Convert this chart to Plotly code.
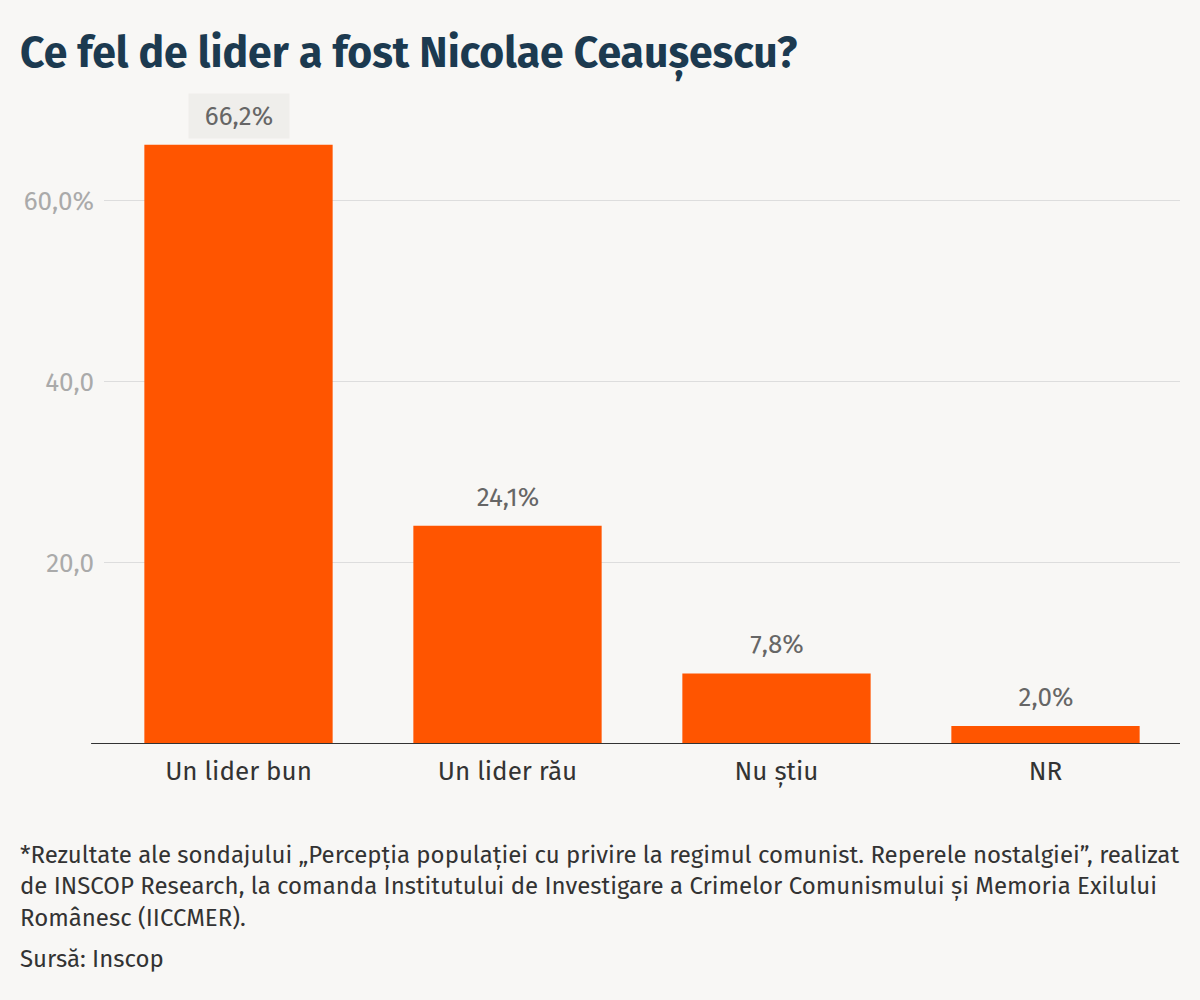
import plotly.graph_objects as go

# date
categories = ["Un lider bun", "Un lider rău", "Nu știu", "NR"]
values = [66.2, 24.1, 7.8, 2.0]
y_ticks = [20, 40, 60]
y_ticktext = ["20,0", "40,0", "60,0%"]

title = "Ce fel de lider a fost Nicolae Ceaușescu?"
note_lines = [
    "*Rezultate ale sondajului „Percepția populației cu privire la regimul comunist. Reperele nostalgiei”, realizat",
    "de INSCOP Research, la comanda Institutului de Investigare a Crimelor Comunismului și Memoria Exilului",
    "Românesc (IICCMER).",
]
source = "Sursă: Inscop"

BG = "#f8f7f5"
ORANGE = "#ff5500"
FONT = "Fira Sans, Noto Sans, sans-serif"

fig = go.Figure(go.Bar(x=categories, y=values, marker_color=ORANGE, marker_line_width=0, hoverinfo="skip"))

# etichete cu valori deasupra barelor
for i, (c, v) in enumerate(zip(categories, values)):
    fig.add_annotation(
        x=c, y=v, yshift=29, showarrow=False,
        text=f"{v:.1f}%".replace(".", ","),
        font=dict(size=26, color="#666666", family=FONT),
        bgcolor="#efeeeb" if i == 0 else None,
        width=100, height=44, borderpad=0,
    )

# linia de baza, putin mai lunga spre stanga
fig.add_shape(type="line", xref="paper", yref="y", x0=-0.012, x1=1, y0=0, y1=0,
              line=dict(color="#333333", width=2))

# nota de subsol, cate o linie
plot_h = 679
for k, line in enumerate(note_lines):
    py = 855 + k * 31.5
    fig.add_annotation(xref="paper", yref="paper", x=-86 / 1076, y=(744 - py) / plot_h,
                       xanchor="left", yanchor="middle", showarrow=False, text=line,
                       font=dict(size=24, color="#333333", family=FONT))
fig.add_annotation(xref="paper", yref="paper", x=-86 / 1076, y=(744 - 959) / plot_h,
                   xanchor="left", yanchor="middle", showarrow=False, text=source,
                   font=dict(size=24, color="#333333", family=FONT))

fig.update_layout(
    width=1200, height=1000,
    paper_bgcolor=BG, plot_bgcolor=BG,
    margin=dict(l=104, r=20, t=65, b=256),
    bargap=0.3,
    showlegend=False,
    title=dict(text=f"<b>{title}</b>", x=20 / 1200, xanchor="left",
               y=1 - 52 / 1000, yanchor="middle",
               font=dict(size=42.7, color="#1c3a50", family=FONT)),
    xaxis=dict(showgrid=False, showline=False, ticks="outside", ticklen=4,
               tickcolor="rgba(0,0,0,0)",
               tickfont=dict(size=26, color="#333333", family=FONT)),
    yaxis=dict(range=[0, 75], tickvals=y_ticks, ticktext=y_ticktext,
               showgrid=True, gridcolor="#dddddd", gridwidth=1,
               zeroline=False, showline=False, ticks="", ticklabelstandoff=9,
               tickfont=dict(size=26, color="#aaaaaa", family=FONT)),
)

# pagina fara marginea implicita a browserului
fig.write_html("out.html", config={"displayModeBar": False},
               post_script="document.body.style.margin='0';document.body.style.background='#f8f7f5';")
